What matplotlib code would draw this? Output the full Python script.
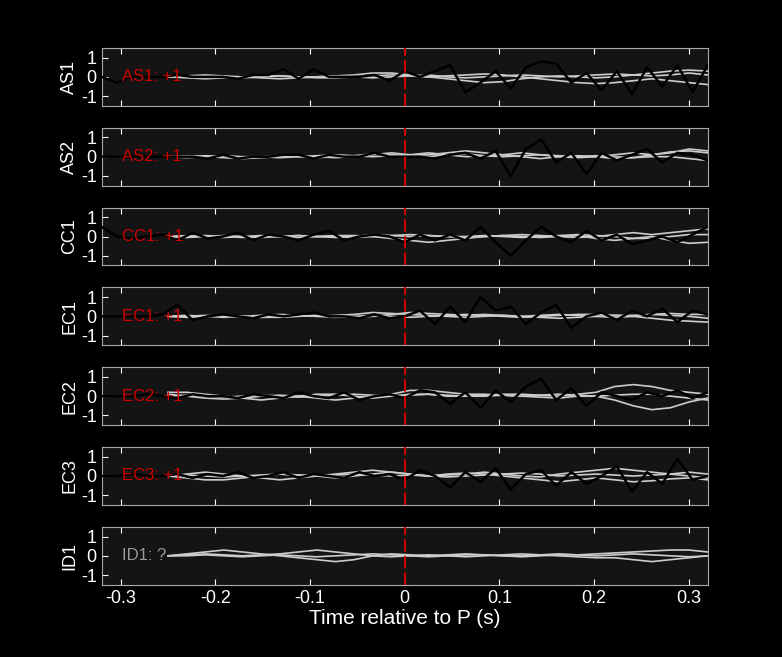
import numpy as np
import matplotlib
matplotlib.use("Agg")
import matplotlib.pyplot as plt

stations = ["AS1", "AS2", "CC1", "EC1", "EC2", "EC3", "ID1"]
labels = ["AS1: +1", "AS2: +1", "CC1: +1", "EC1: +1", "EC2: +1", "EC3: +1", "ID1: ?"]
label_colors = ["#cc0000"] * 6 + ["#999999"]

t_black = np.linspace(-0.32, 0.32, 41)
black = {
 "AS1": [0.0,-0.3,0.0,0.0,0.0,0.1,0.0,0.0,0.0,-0.1,0.1,0.1,0.4,-0.1,0.4,0.0,0.0,0.0,0.1,-0.2,0.3,0.0,0.3,0.6,-0.8,-0.3,0.3,-0.6,0.5,0.8,0.7,-0.3,0.2,-0.7,0.3,-0.9,0.5,-0.5,0.6,-0.8,0.6],
 "AS2": [0.0,0.0,0.0,0.0,0.0,0.0,0.0,-0.1,0.1,-0.1,0.0,0.0,0.1,0.1,-0.1,0.1,0.0,0.0,0.2,0.0,0.0,0.0,-0.1,0.1,0.2,-0.1,0.3,-1.0,0.4,0.9,-0.3,0.2,-0.9,0.2,-0.2,0.1,0.4,-0.3,0.2,0.1,-0.2],
 "CC1": [0.5,0.0,-0.1,0.0,0.1,-0.2,0.2,-0.1,0.0,0.2,-0.2,0.1,0.0,-0.2,0.1,0.3,-0.2,0.0,0.1,0.0,-0.3,0.1,-0.2,0.1,-0.2,0.5,-0.3,-1.0,-0.2,0.5,0.0,-0.3,0.3,-0.2,0.1,-0.4,-0.2,0.0,-0.3,0.1,0.5],
 "EC1": [0.0,0.0,0.0,0.0,0.1,0.6,-0.2,0.0,0.1,0.0,-0.1,0.1,0.0,0.1,0.2,0.0,0.0,-0.1,0.1,-0.1,0.0,0.3,-0.4,0.5,-0.3,1.0,0.3,0.5,-0.4,0.2,0.6,-0.6,0.0,0.2,-0.2,0.3,0.0,0.4,-0.3,0.3,0.1],
 "EC2": [0.0,0.0,0.0,0.1,0.0,-0.1,0.1,0.0,0.0,-0.1,0.1,0.0,-0.1,0.2,0.0,-0.1,0.2,-0.2,0.0,0.1,-0.1,0.3,0.2,-0.4,0.2,-0.6,0.3,-0.3,0.5,0.9,-0.2,0.4,-0.5,0.2,0.0,-0.2,0.2,0.0,0.3,-0.1,0.2],
 "EC3": [0.0,0.0,0.1,0.0,0.0,0.1,-0.1,0.1,0.0,0.2,-0.1,0.0,0.2,-0.1,0.1,0.0,-0.1,0.2,0.0,0.1,-0.2,0.3,0.0,-0.6,0.2,-0.3,0.4,-0.7,0.1,0.3,-0.5,0.2,-0.4,0.0,0.5,-0.8,0.2,-0.4,0.9,-0.2,0.0],
}

t_grey = np.linspace(-0.25, 0.32, 30)
grey = {
 "AS1": [[0,0.05,0.1,0.05,0,-0.05,-0.1,-0.05,0,0.05,0.1,0.2,0.2,0.1,0,-0.1,-0.2,-0.3,-0.25,-0.1,0,0.05,0,-0.05,0,0.1,0.2,0.3,0.35,0.3],
         [0,-0.05,-0.1,-0.05,0,0.05,0.05,0,-0.05,-0.05,0,0.05,0.1,0.05,0,0.05,0.1,0.15,0.1,0,-0.1,-0.2,-0.3,-0.35,-0.3,-0.2,-0.1,-0.2,-0.3,-0.4],
         [0,0,0.05,0,-0.05,0,0.05,0,0,0.05,0,-0.05,0,0.05,0.1,0,-0.05,0,0.05,0.1,0.05,0,0.05,0.1,0.15,0.1,0.05,0.1,0.2,0.1]],
 "AS2": [[0,0.05,0,-0.05,-0.1,-0.05,0,0.05,0,-0.05,0,0.1,0.2,0.1,0.1,0.2,0.3,0.2,0.1,0.2,0.1,0,-0.05,0,0.1,0.2,0.1,0.2,0.4,0.3],
         [0,-0.05,0,0.05,0,0,-0.05,0,0.05,0.1,0.05,0,0.05,0.1,0.2,0.1,0,0.05,0.1,0,-0.1,0,0.05,0,-0.1,-0.05,0,0,-0.1,-0.2],
         [0,0,0.05,0,-0.05,0,0.05,0,-0.05,0,0.05,0.15,0.1,0.05,0,0.1,0.15,0.05,0,0.05,0.1,0.05,0,0.05,0,-0.05,0.1,0.25,0.3,0.2]],
 "CC1": [[0,0.05,0,-0.05,0,0.05,0,-0.05,0,0.05,0.05,0,-0.1,-0.2,-0.3,-0.2,-0.1,0,0.05,0,-0.05,0,0.05,-0.1,-0.2,-0.1,0,-0.2,-0.35,-0.3],
         [0,-0.05,0,0.05,0,-0.05,0,0.05,0,-0.05,0,0.1,0.05,0,0.05,0,-0.05,0,0.05,0.1,0.05,0,-0.05,0,0.1,0.2,0.1,0.2,0.3,0.4],
         [0,0,0.05,0,-0.05,0,0,0.05,0,0,-0.05,0,0.05,0.1,0.05,0,0,0.05,0,-0.05,0,0.05,0.1,0.05,0,-0.1,-0.1,0,0.1,0.1]],
 "EC1": [[0,0.05,0,-0.05,0,0.05,0.1,0.05,0,0.05,0.1,0.2,0.15,0.1,0.05,0,-0.05,0,0.05,0,-0.05,-0.1,-0.05,0,0.05,0,-0.1,-0.2,-0.25,-0.3],
         [0,-0.05,0,0.05,0,-0.05,-0.05,0,0.05,0,-0.05,0,0.1,0.2,0.15,0.1,0.05,0.1,0.05,0,0.05,0.1,0.05,0,-0.05,0,0.1,0.05,0,-0.1],
         [0,0,0.05,0,0,-0.05,0,0.05,0,-0.05,0,0.05,0,-0.05,0,0.05,0.1,0.05,0,-0.05,0,0.05,0.1,0.1,0.05,0.05,0.1,0.15,0.1,0.1]],
 "EC2": [[0.2,0.2,0.1,0,-0.1,-0.2,-0.1,0,0.1,0.1,0,-0.1,0,0.1,0.1,0,0,0.05,0.1,0.1,0.05,0,0.1,0.2,0.5,0.6,0.5,0.3,0.2,0.1],
         [0.1,0,-0.1,-0.15,-0.1,0,0.05,0,-0.1,-0.2,-0.1,0,0.1,0.3,0.3,0.2,0.1,0.1,0.05,0,-0.05,-0.1,0,0,-0.2,-0.5,-0.7,-0.6,-0.3,-0.1],
         [0,0.05,0,-0.05,0,0.05,0,-0.05,0,0.05,0.1,0.05,0,0.05,0.1,0.05,0,0,0.05,0,0.05,0.1,0.05,0,0.05,0.1,0.1,0,-0.1,-0.2]],
 "EC3": [[0,0.1,0.2,0.1,0,-0.1,-0.2,-0.1,0,0.1,0.2,0.3,0.2,0.1,0,0.05,0.1,0.2,0.1,0,-0.05,0.1,0.2,0.3,0.4,0.3,0.2,0.1,0,-0.1],
         [0,-0.1,-0.2,-0.2,-0.1,0,0.1,0.05,0,-0.1,0,0.1,0.2,0.1,0,0.1,0.15,0.1,0,-0.1,-0.2,-0.3,-0.2,-0.1,-0.2,-0.3,-0.25,-0.15,-0.1,-0.2],
         [0,0.05,0,-0.05,0,0.05,0.1,0.05,0,0.05,0.1,0.05,0,0.05,0,-0.05,0,0.05,0.1,0.15,0.1,0,0.05,0.1,0.05,0,0.05,0.1,0.2,0.1]],
 "ID1": [[0,0.1,0.2,0.3,0.2,0.1,0,-0.1,-0.2,-0.3,-0.2,0,0.1,0.05,0,0.05,0.1,0.05,0,-0.05,0,0.05,0.05,0.1,0.15,0.2,0.25,0.3,0.3,0.2],
         [0,0.05,0.1,0.05,0,0.05,0.1,0.2,0.3,0.2,0.1,0,-0.05,0,0.05,0,-0.05,0,0.05,0.1,0.05,0,-0.05,-0.1,-0.1,-0.2,-0.3,-0.2,-0.1,0],
         [0,0,0.05,0,-0.05,0,0.05,0,-0.05,0,0.05,0.1,0.05,0,-0.05,0,0.05,0.05,0,0,0.05,0.1,0.05,0,0.05,0.1,0.05,0,-0.05,0]],
}

xticks = [-0.3, -0.2, -0.1, 0, 0.1, 0.2, 0.3]
xticklabels = ["-0.3", "-0.2", "-0.1", "0", "0.1", "0.2", "0.3"]

fig = plt.figure(figsize=(7.82, 6.57), dpi=100, facecolor="black")
left, width, h, step, top0 = 0.130, 0.775, 0.088, 0.1215, 0.927
for i, st in enumerate(stations):
    ax = fig.add_axes([left, top0 - h - i * step, width, h])
    ax.set_facecolor("#141414")
    for g in grey[st]:
        ax.plot(t_grey, g, color="#cccccc", lw=1.2, zorder=2)
    if st in black:
        ax.plot(t_black, black[st], color="black", lw=1.8, zorder=3)
    ax.axvline(0, color="#cc0000", lw=1.5, dashes=(6, 2), zorder=4)
    ax.text(-0.299, 0, labels[i], color=label_colors[i], fontsize=12, va="center", ha="left",
            fontfamily="Liberation Sans", zorder=10)
    ax.set_xlim(-0.32, 0.32)
    ax.set_ylim(-1.5, 1.5)
    ax.set_yticks([-1, 0, 1])
    ax.set_yticklabels(["-1", "0", "1"])
    ax.set_xticks(xticks)
    ax.set_ylabel(st, color="white", fontsize=13, fontfamily="Liberation Sans", labelpad=2)
    ax.tick_params(colors="white", direction="in", top=True, labelsize=13, length=4)
    for lbl in ax.get_yticklabels() + ax.get_xticklabels():
        lbl.set_fontfamily("Liberation Sans")
    for s in ax.spines.values():
        s.set_color("#aaaaaa")
    if i < len(stations) - 1:
        ax.set_xticklabels([])
    else:
        ax.set_xticklabels(xticklabels)
        ax.set_xlabel("Time relative to P (s)", color="white", fontsize=15,
                      fontfamily="Liberation Sans", labelpad=2)

fig.savefig("out.png", facecolor="black")
